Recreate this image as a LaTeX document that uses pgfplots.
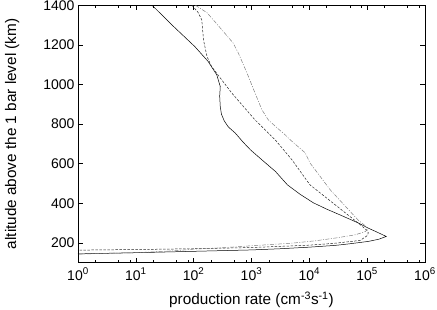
\documentclass[border=0pt]{standalone}
\usepackage{fontspec}
\setmainfont{Liberation Sans}
\usepackage{pgfplots}
\pgfplotsset{compat=1.18}
\begin{document}
\begin{tikzpicture}
\path[use as bounding box] (-78bp,-47.2bp) rectangle (359bp,262.6bp);
\begin{axis}[
  at={(0,0)}, anchor=south west,
  scale only axis, width=347bp, height=257.4bp,
  xmode=log, log basis x=10,
  xmin=1, xmax=1000000, ymin=100, ymax=1400,
  xtick={1,10,100,1000,10000,100000,1000000},
  xticklabels={10\textsuperscript{0},10\textsuperscript{1},10\textsuperscript{2},10\textsuperscript{3},10\textsuperscript{4},10\textsuperscript{5},10\textsuperscript{6}},
  minor xtick={2,5,8,20,50,80,200,500,800,2000,5000,8000,20000,50000,80000,200000,500000,800000},
  ytick={200,400,600,800,1000,1200,1400},
  /pgf/number format/assume math mode=true,
  /pgf/number format/1000 sep={},
  tick align=inside,
  major tick length=5bp, minor tick length=2.5bp,
  every tick/.style={black, line width=0.5pt},
  axis line style={line width=0.7pt},
  tick label style={font=\fontsize{14bp}{16bp}\selectfont},
  xlabel={production rate (cm\textsuperscript{-3}s\textsuperscript{-1})},
  ylabel={altitude above the 1 bar level (km)},
  every axis x label/.style={at={(axis description cs:0.5,-0.144)}, anchor=center, font=\fontsize{15.3bp}{17bp}\selectfont},
  every axis y label/.style={at={(axis description cs:-0.19,0.5)}, anchor=center, rotate=90, font=\fontsize{15.3bp}{17bp}\selectfont},
  xticklabel style={yshift=-2bp},
  clip=true,
]
% solid
\addplot[black, line width=0.5pt] coordinates {
(19.05,1400) (43.65,1296) (104.7,1191) (177.8,1116) (251.2,1048) (288.4,989)
(281.8,940) (288.4,888) (302,850) (338.8,815) (398.1,785) (524.8,754)
(707.9,710) (955,670) (1514,619) (2600,560)
(4169,493) (6918,445) (11749,402) (19953,370) (33884,341) (69183,301) (104713,274)
(158489,250) (213796,232) (158489,218) (104713,207) (46774,194) (28184,187)
(10000,178) (3162,170) (1000,164) (100,157) (10,150) (1,144)
};
% dashed
\addplot[black!85, line width=0.5pt, dash pattern=on 2.5pt off 1.5pt] coordinates {
(93.3,1400) (120.2,1362) (138,1326) (147.9,1225) (169.8,1141) (204.2,1090)
(457.1,956) (1148,821) (2570,720) (5012,619) (10233,493) (69183,301)
(100000,262) (104713,250) (100000,236) (75858,212) (28184,198) (10000,188)
(1000,176) (100,170) (10,166) (1,163)
};
% dash-dot grey
\addplot[black!50, line width=0.5pt, dash pattern=on 4pt off 1.5pt on 1pt off 1.5pt] coordinates {
(107.2,1400) (169.8,1362) (218.8,1326) (478.6,1210) (588.8,1160) (831.8,1059)
(1148,957) (1514,872) (1950,821) (2754,781) (3802,746) (4677,720) (8511,654) (10233,604)
(22909,468) (69183,316) (93325,285) (100000,268) (93325,257) (61660,240)
(28184,224) (12589,210) (5012,198) (1000,185) (316.2,175) (100,168)
(47.9,160) (10,150) (1,143)
};
\end{axis}
\end{tikzpicture}
\end{document}
